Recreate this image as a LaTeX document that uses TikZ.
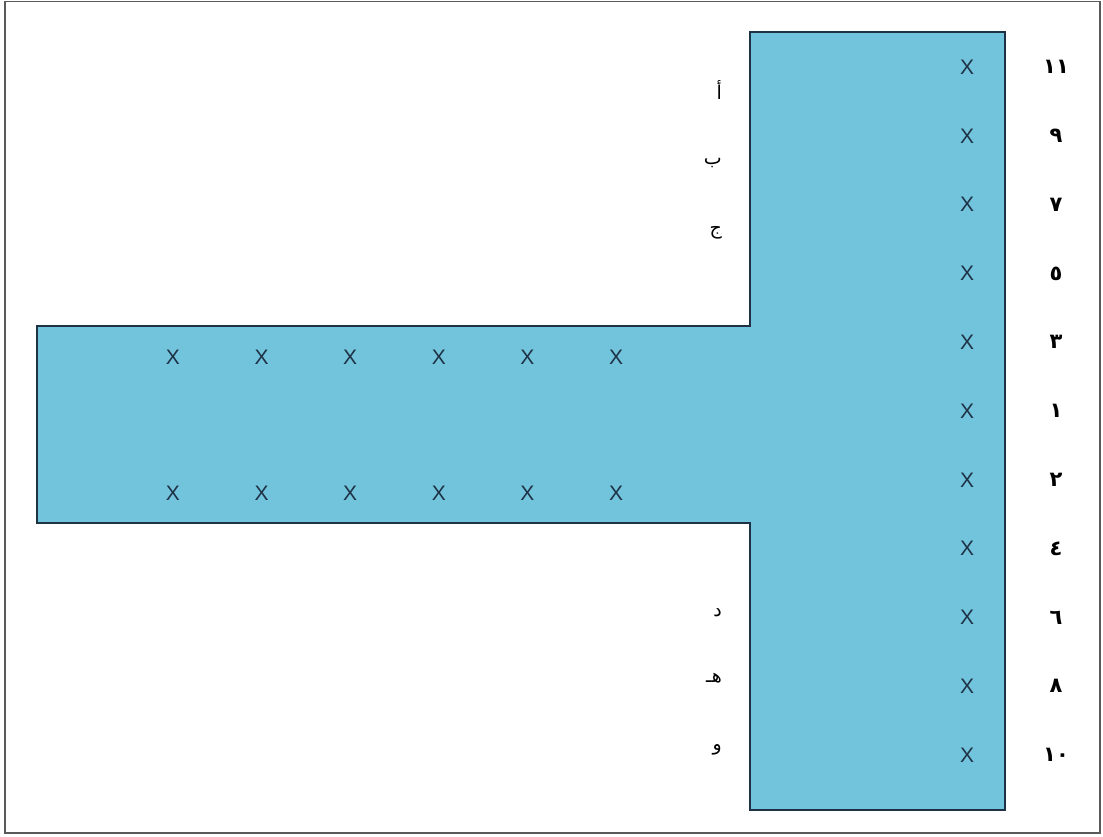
\documentclass[tikz,border=0pt]{standalone}
\usepackage{fontspec}
\setmainfont{Liberation Sans}
\newfontfamily\arabicfont[Script=Arabic]{DejaVu Sans}
\TeXXeTstate=1
\definecolor{tblue}{RGB}{114,196,220}
\definecolor{tedge}{RGB}{30,50,70}
\definecolor{tframe}{RGB}{90,90,90}
\usetikzlibrary{positioning}

\begin{document}
\begin{tikzpicture}[x=1pt,y=-1pt,
    seat/.style={font=\fontsize{21}{21}\selectfont,text=tedge,inner sep=0pt},
    numlbl/.style={font=\arabicfont\bfseries\fontsize{21}{22}\selectfont,inner sep=0pt},
    letlbl/.style={font=\arabicfont\fontsize{19}{20}\selectfont,inner sep=0pt,anchor=east}]
  \useasboundingbox (0,0) rectangle (1103,836);
  % frame
  \draw[tframe,line width=1.5pt] (5,1.5) rectangle (1100,833);
  % T shape
  \draw[tedge,fill=tblue,line width=1.2pt]
    (750,32) -- (1005,32) -- (1005,810) -- (750,810) -- (750,523)
    -- (37,523) -- (37,326) -- (750,326) -- cycle;
  % right column: seats and numbers
  \foreach \n [count=\i from 0] in {١١,٩,٧,٥,٣,١,٢,٤,٦,٨,١٠} {
    \node[seat] (col\i) at (967,67+68.8*\i) {X};
    \node[numlbl] (num\i) at (1056,67+68.8*\i) {\n};
  }
  % arm: two rows of seats
  \foreach \i in {0,...,5} {
    \node[seat] (up\i) at (173+88.6*\i,357) {X};
    \node[seat] (lo\i) at (173+88.6*\i,493) {X};
  }
  % letters
  \node[letlbl] (la) at (722,90) {\beginR أ\endR};
  \node[letlbl] (lb) at (722,163) {\beginR ب\endR};
  \node[letlbl] (lc) at (722,233) {\beginR ج\endR};
  \node[letlbl] (ld) at (722,613) {\beginR د\endR};
  \node[letlbl] (le) at (722,678) {\beginR هـ\endR};
  \node[letlbl] (lf) at (722,750) {\beginR و\endR};
\end{tikzpicture}
\end{document}
